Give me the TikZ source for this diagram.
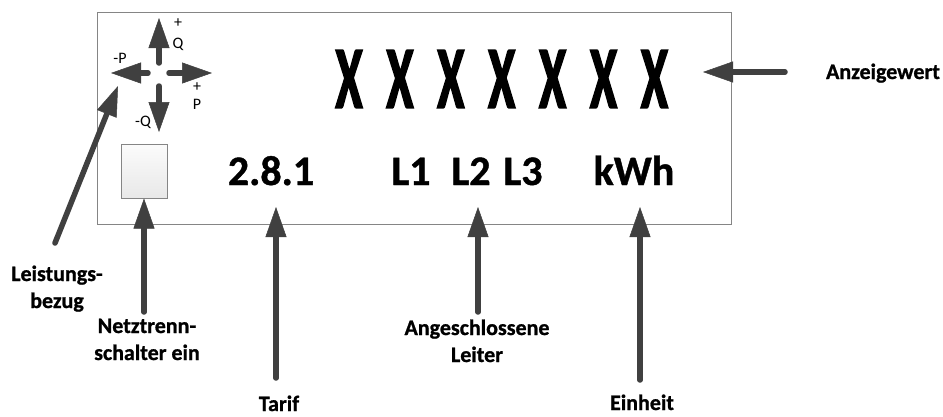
\documentclass[tikz,border=0pt]{standalone}
\usepackage{fontspec}
\setmainfont{Carlito}
\newfontfamily\xfont[BoldFeatures={FakeBold=2.5}]{Carlito}
\newfontfamily\lblfont[BoldFeatures={FakeBold=1}]{Carlito}
\usetikzlibrary{arrows.meta,calc}
\definecolor{arrgray}{HTML}{404040}
\definecolor{boxgray}{HTML}{858585}
\begin{document}
\begin{tikzpicture}[x=1pt,y=-1pt,
  arr/.style={draw=arrgray, line width=5.5pt, line cap=round, -{Triangle[width=21pt,length=30pt,line width=0.5pt]}},
  lbl/.style={font=\fontsize{22}{27}\lblfont\bfseries, align=center, inner sep=0pt, anchor=base},
  big/.style={font=\fontsize{42}{42}\lblfont\bfseries, inner sep=0pt, anchor=base},
  xx/.style={font=\fontsize{88}{88}\xfont\bfseries, inner sep=0pt},
  sm/.style={font=\fontsize{16}{16}\selectfont, inner sep=0pt}]
\useasboundingbox (0,0) rectangle (943,416);
% display frame
\node[draw=boxgray, line width=1pt, minimum width=634pt, minimum height=212pt, inner sep=0pt] (disp) at (414,118) {};
% disconnect switch square
\node[draw=boxgray, line width=1pt, top color=gray!3, bottom color=gray!18, minimum width=46pt, minimum height=54pt, inner sep=0pt] (sw) at (144,171) {};
% quadrant arrows
\coordinate (cc) at (159,73);
\draw[arr] ($(cc)+(0,-10)$) -- ($(cc)+(0,-55)$);
\draw[arr] ($(cc)+(-11,0)$) -- ($(cc)+(-48,0)$);
\draw[arr] ($(cc)+(10,0)$) -- ($(cc)+(53,0)$);
\draw[arr] ($(cc)+(0,13)$) -- ($(cc)+(0,59)$);
\node[sm] (qp1) at (178,23) {+};
\node[sm] (qp2) at (178,44) {Q};
\node[sm] (pm) at (120,58) {-P};
\node[sm] (pp1) at (197,87) {+};
\node[sm] (pp2) at (197,104) {P};
\node[sm] (qm) at (143,122) {-Q};
% digits
\foreach \i in {0,...,6} {
  \node[xx] (x\i) at ({349+50.9*\i},79) {\scalebox{0.56}[1]{X}};
}
\node[big] (d281) at (271,185) {2.8.1};
\node[big] (l1) at (411,185) {L1};
\node[big] (l2) at (471,185) {L2};
\node[big] (l3) at (523,185) {L3};
\node[big] (kwh) at (634,185) {kWh};
% labels (base = baseline of last line)
\node[lbl] (lb) at (57,308) {Leistungs-\\bezug};
\node[lbl] (nt) at (147,360) {Netztrenn-\\schalter ein};
\node[lbl] (al) at (477,362) {Angeschlossene\\Leiter};
\node[lbl] (tf) at (279,411) {Tarif};
\node[lbl] (eh) at (642,410) {Einheit};
\node[lbl] (anz) at (883,79) {Anzeigewert};
% connectors
\coordinate (lbTail) at (55,243);
\coordinate (lbTip) at (118,86);
\draw[arr] (lbTail) -- (lbTip);
\coordinate (ntTail) at (144,312);
\draw[arr] (ntTail) -- (sw.south);
\coordinate (tfTail) at (276,378);
\coordinate (tfTip) at (276,207);
\draw[arr] (tfTail) -- (tfTip);
\coordinate (alTail) at (478,312);
\coordinate (alTip) at (478,207);
\draw[arr] (alTail) -- (alTip);
\coordinate (ehTail) at (640,380);
\coordinate (ehTip) at (640,207);
\draw[arr] (ehTail) -- (ehTip);
\coordinate (anzTail) at (785,72);
\coordinate (anzTip) at (703,72);
\draw[arr] (anzTail) -- (anzTip);
\end{tikzpicture}
\end{document}
